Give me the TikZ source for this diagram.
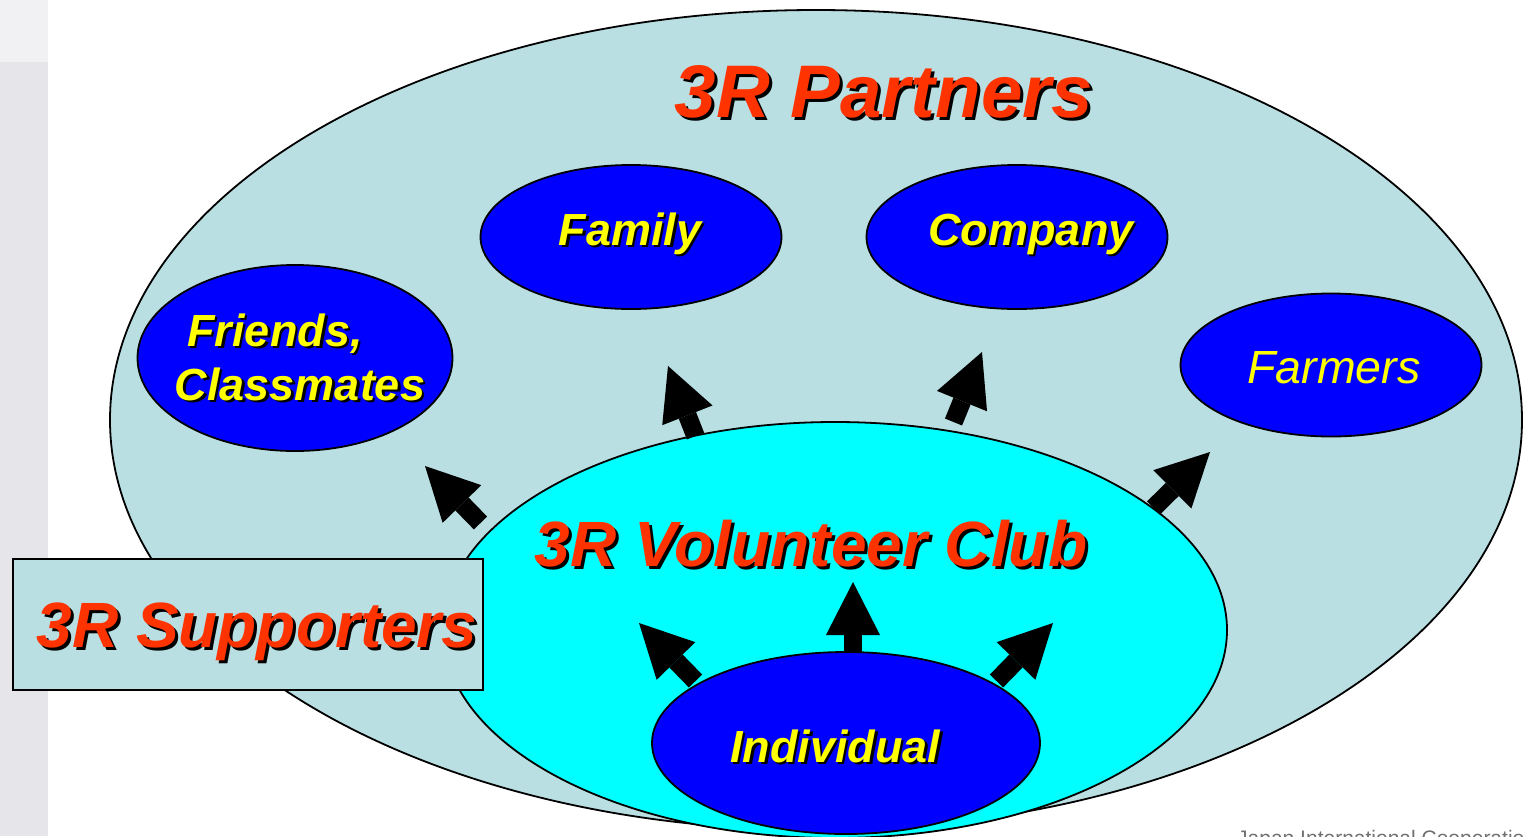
\documentclass[tikz,border=0pt]{standalone}
\usepackage{fontspec}
\setmainfont{Liberation Sans}
\usetikzlibrary{shapes.geometric,arrows.meta}
\definecolor{partbg}{HTML}{B9DFE3}
\definecolor{clubcyan}{HTML}{00FFFF}
\definecolor{nodeblue}{HTML}{0000FF}
\definecolor{titlered}{HTML}{FF3300}
\definecolor{labelyellow}{HTML}{FFFF00}
\definecolor{stripgray}{HTML}{E6E6EA}
\definecolor{striplight}{HTML}{F1F1F3}
\definecolor{footgray}{HTML}{707070}
\newcommand{\shadowtext}[3]{\rlap{\kern#1\raisebox{-#1}{\color{black}#3}}{\color{#2}#3}}
\begin{document}
\begin{tikzpicture}[x=1pt,y=-1pt,
  blob/.style={ellipse, draw=black, line width=1.8pt, inner sep=0pt},
  bluenode/.style={blob, fill=nodeblue},
  titletext/.style={anchor=base, inner sep=0pt, font=\fontsize{64}{70}\selectfont\bfseries\itshape},
  labeltext/.style={anchor=base, inner sep=0pt, font=\fontsize{45}{54}\selectfont\bfseries\itshape},
  blockarrow/.style={line width=18.5pt, draw=black, -{Triangle[length=53pt,width=54pt,line width=0pt]}},
]
\useasboundingbox (0,0) rectangle (1523,836);
\begin{scope}
\clip (0,0) rectangle (1523,836);
\fill[stripgray] (0,0) rectangle (48,836);
\fill[striplight] (0,0) rectangle (48,62);

\node[blob, fill=partbg, minimum width=1412pt, minimum height=820pt] (partners) at (816,420) {};
\node[blob, fill=clubcyan, minimum width=784pt, minimum height=416pt] (club) at (835,630) {};

\coordinate (a1s) at (480.5,523); \coordinate (a1e) at (425,466);
\coordinate (a2s) at (695.5,436); \coordinate (a2e) at (668,366);
\coordinate (a3s) at (953.5,422); \coordinate (a3e) at (982,352);
\coordinate (a4s) at (1153.5,508); \coordinate (a4e) at (1210,452);
\coordinate (a5s) at (695.5,681); \coordinate (a5e) at (639,623);
\coordinate (a6s) at (853,652); \coordinate (a6e) at (853,582);
\coordinate (a7s) at (996.5,681); \coordinate (a7e) at (1053,623);
\foreach \i in {1,...,7} { \draw[blockarrow] (a\i s) -- (a\i e); }

\node[bluenode, minimum width=301pt, minimum height=144pt] (family) at (631,237) {};
\node[bluenode, minimum width=301pt, minimum height=144pt] (company) at (1017,237) {};
\node[bluenode, minimum width=315pt, minimum height=186pt] (friends) at (295,358) {};
\node[bluenode, minimum width=301pt, minimum height=143pt] (farmers) at (1331,365) {};
\node[bluenode, minimum width=388pt, minimum height=182pt] (individual) at (846,743) {};

\node[draw=black, line width=1.8pt, fill=partbg, minimum width=470pt, minimum height=131pt,
      inner sep=0pt, anchor=north west] (supporters) at (12,558) {};

\node[titletext, font=\fontsize{74.5}{80}\selectfont\bfseries\itshape] (partnerstitle) at (884,117)
  {\shadowtext{3pt}{titlered}{3R Partners}};
\node[titletext] (clubtitle) at (811,566) {\shadowtext{3pt}{titlered}{3R Volunteer Club}};
\node[titletext] (supporterstitle) at (257,647) {\shadowtext{3pt}{titlered}{3R Supporters}};

\node[labeltext] (familytext) at (630,245) {\shadowtext{2.5pt}{labelyellow}{Family}};
\node[labeltext] (companytext) at (1031,245) {\shadowtext{2.5pt}{labelyellow}{Company}};
\node[labeltext] (friendstext) at (275,346) {\shadowtext{2.5pt}{labelyellow}{Friends,}};
\node[labeltext] (classmatestext) at (300,400) {\shadowtext{2.5pt}{labelyellow}{Classmates}};
\node[labeltext] (individualtext) at (835,762) {\shadowtext{2.5pt}{labelyellow}{Individual}};
\node[anchor=base, inner sep=0pt, text=labelyellow, font=\fontsize{46.5}{54}\selectfont\itshape]
  (farmerstext) at (1334,383) {Farmers};

\node[anchor=base west, inner sep=0pt, text=footgray, font=\fontsize{21}{24}\selectfont]
  (footer) at (1237,845) {Japan International Cooperation};
\end{scope}
\end{tikzpicture}
\end{document}
